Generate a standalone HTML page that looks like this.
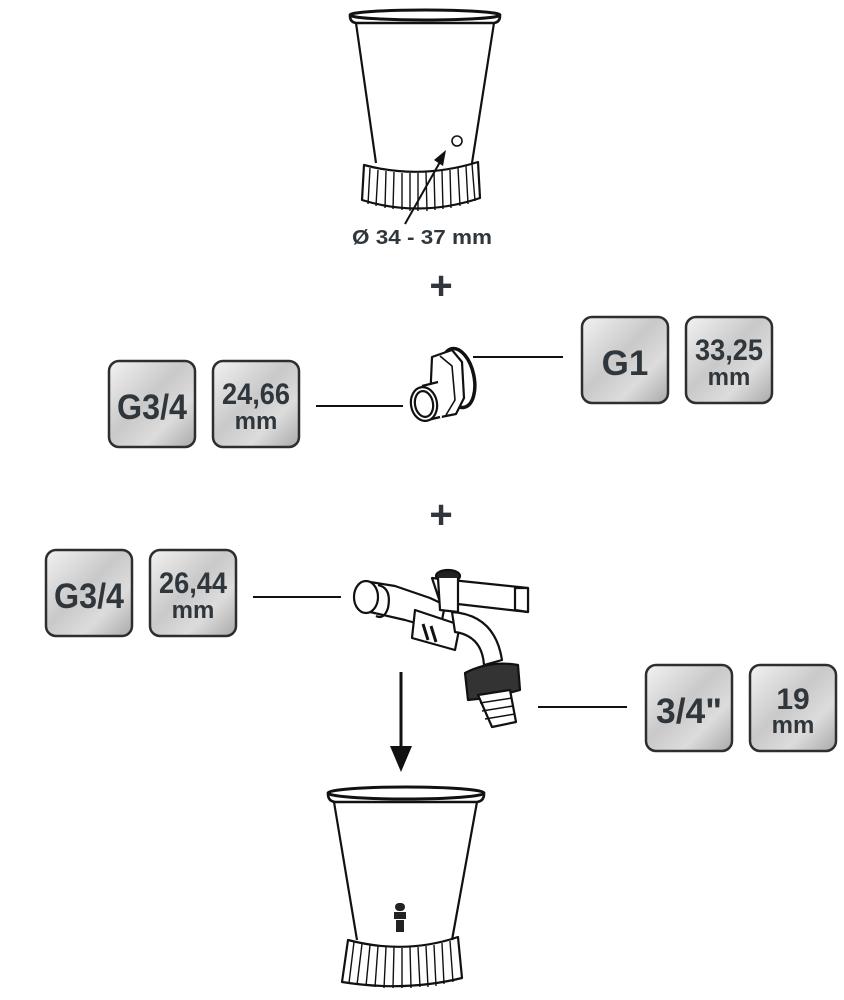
<!DOCTYPE html>
<html><head><meta charset="utf-8"><style>
html,body{margin:0;padding:0;background:#fff}
svg{display:block}
.t{font-family:"Liberation Sans",sans-serif;font-weight:bold;fill:#30373c}
</style></head><body>
<svg width="844" height="1000" viewBox="0 0 844 1000" xmlns="http://www.w3.org/2000/svg">
<defs>
<linearGradient id="sg" x1="0" y1="0" x2="1" y2="1">
<stop offset="0" stop-color="#f2f2f2"/><stop offset="0.45" stop-color="#c9c9c9"/><stop offset="0.7" stop-color="#dcdcdc"/><stop offset="1" stop-color="#a9a9a9"/>
</linearGradient>
</defs>
<g fill="none" stroke="#111" stroke-width="2.2" stroke-linejoin="round">
<!-- top barrel -->
<ellipse cx="425" cy="15" rx="75" ry="5" stroke-width="3"/>
<path d="M350 16 Q350 22 356 23 L494 23 Q500 22 500 16" stroke-width="2.6"/>
<path d="M356 23 L376 163 M494 23 L472 163"/>
<path d="M364 165 Q420 180 478 162 L480 198 Q420 218 362 200 Z"/>
<g stroke-width="1.4">
<path d="M370 168 L368 204 M378 170 L376 206 M386 171 L385 208 M394 172 L393 209 M402 173 L402 210 M410 173 L410 211 M418 173 L418 211 M426 172 L427 211 M434 172 L435 210 M442 171 L443 209 M450 170 L451 208 M458 168 L460 206 M466 166 L468 204 M472 164 L475 201"/>
</g>
<circle cx="457" cy="141" r="5" stroke-width="1.6"/>
<path d="M405 224 L440 162" stroke-width="2"/>
</g>
<path d="M446 150 L434 160 L443 166 Z" fill="#111"/>
<text x="422" y="244" class="t" font-size="20" text-anchor="middle" fill="#111" textLength="140" lengthAdjust="spacingAndGlyphs">Ø 34 - 37 mm</text>
<!-- plus signs -->
<text x="441" y="299" class="t" font-size="40" text-anchor="middle" fill="#111">+</text>
<text x="441" y="528" class="t" font-size="40" text-anchor="middle" fill="#111">+</text>
<!-- connector lines -->
<g stroke="#111" stroke-width="2">
<line x1="316" y1="406" x2="403" y2="406"/>
<line x1="473" y1="357" x2="563" y2="357"/>
<line x1="253" y1="597" x2="341" y2="597"/>
<line x1="538" y1="707" x2="627" y2="707"/>
<line x1="401" y1="672" x2="401" y2="750" stroke-width="3"/>
</g>
<path d="M390 746 L412 746 L401 772 Z" fill="#111"/>
<!-- fitting -->
<g fill="#fff" stroke="#111" stroke-width="2.2" stroke-linejoin="round">
<ellipse cx="458" cy="378" rx="16" ry="30" transform="rotate(-12 458 378)" stroke-width="3.5"/>
<path d="M432 357 L452 350 L462 362 L464 398 L456 414 L436 418 L430 402 Z"/>
<path d="M440 356 L452 366 L455 400 L446 415" fill="none" stroke-width="1.6"/>
<path d="M423 387 L438 383 L442 418 L425 421 Z" stroke="none"/>
<path d="M422 386 L438 382 M424 421 L440 417" fill="none"/>
<ellipse cx="424" cy="404" rx="13" ry="17" transform="rotate(-10 424 404)"/>
<ellipse cx="424" cy="404" rx="9" ry="13" transform="rotate(-10 424 404)"/>
</g>
<!-- tap -->
<g fill="#fff" stroke="#111" stroke-width="2.2" stroke-linejoin="round">
<path d="M370 582 L395 586 L430 598 L445 605 L440 630 L405 620 L370 612 Z"/>
<ellipse cx="366" cy="597" rx="12" ry="16"/>
<path d="M378 585 Q392 588 388 608 Q384 620 376 616" fill="none"/>
<path d="M415 610 L460 625 L455 650 L412 638 Z"/>
<path d="M432 578 L528 588 L528 612 L440 602 Z"/>
<path d="M515 588 L528 588 L528 612 L515 610 Z"/>
<ellipse cx="448" cy="576" rx="12" ry="6" fill="#222"/>
<path d="M438 578 L440 610 L458 612 L458 578"/>
<path d="M452 612 Q495 615 502 660 L484 665 Q482 636 455 632 Z"/>
<path d="M465 673 Q490 660 518 665 L520 690 Q492 698 468 700 Z" fill="#333"/>
<path d="M478 695 L510 690 L516 722 L492 727 Z"/>
<path d="M480 703 L512 698 M482 711 L513 706 M485 719 L515 714" fill="none" stroke-width="1.5"/>
<path d="M423 624 L428 640 M431 626 L436 642" stroke-width="3"/>
</g>
<!-- bottom barrel -->
<g fill="none" stroke="#111" stroke-width="2.2" stroke-linejoin="round">
<ellipse cx="406" cy="793" rx="78" ry="6" stroke-width="3"/>
<path d="M328 794 Q328 801 335 802 L477 802 Q484 801 484 794" stroke-width="2.6"/>
<path d="M334 802 L357 940 M477 802 L452 940"/>
<path d="M348 940 Q405 955 458 937 L462 978 Q405 992 342 982 Z"/>
<g stroke-width="1.4">
<path d="M354 942 L349 983 M362 944 L357 985 M370 945 L366 986 M378 946 L375 987 M386 947 L384 988 M394 947 L393 988 M402 948 L402 988 M410 947 L411 988 M418 947 L420 987 M426 946 L428 987 M434 945 L436 986 M442 943 L444 984 M450 941 L453 982"/>
</g>
</g>
<g fill="#222">
<rect x="395" y="903" width="10" height="8" rx="4"/>
<rect x="394" y="912" width="12" height="7"/>
<rect x="396" y="920" width="8" height="12"/>
</g>
<!-- tiles -->
<g stroke="#2c2f31" stroke-width="2.5" fill="url(#sg)">
<rect x="109" y="361" width="86" height="86" rx="10"/>
<rect x="213" y="361" width="86" height="86" rx="10"/>
<rect x="582" y="317" width="86" height="86" rx="10"/>
<rect x="686" y="317" width="86" height="86" rx="10"/>
<rect x="46" y="550" width="86" height="86" rx="10"/>
<rect x="150" y="550" width="86" height="86" rx="10"/>
<rect x="646" y="665" width="86" height="86" rx="10"/>
<rect x="750" y="665" width="86" height="86" rx="10"/>
</g>
<g class="t" text-anchor="middle">
<text x="152" y="419" font-size="35" textLength="70" lengthAdjust="spacingAndGlyphs">G3/4</text>
<text x="256" y="404" font-size="30" textLength="68" lengthAdjust="spacingAndGlyphs">24,66</text>
<text x="256" y="429" font-size="24">mm</text>
<text x="625" y="375" font-size="35">G1</text>
<text x="729" y="360" font-size="30" textLength="68" lengthAdjust="spacingAndGlyphs">33,25</text>
<text x="729" y="385" font-size="24">mm</text>
<text x="89" y="608" font-size="35" textLength="70" lengthAdjust="spacingAndGlyphs">G3/4</text>
<text x="193" y="593" font-size="30" textLength="68" lengthAdjust="spacingAndGlyphs">26,44</text>
<text x="193" y="618" font-size="24">mm</text>
<text x="689" y="723" font-size="35" textLength="66" lengthAdjust="spacingAndGlyphs">3/4"</text>
<text x="793" y="709" font-size="30">19</text>
<text x="793" y="733" font-size="24">mm</text>
</g>
</svg>
</body></html>
